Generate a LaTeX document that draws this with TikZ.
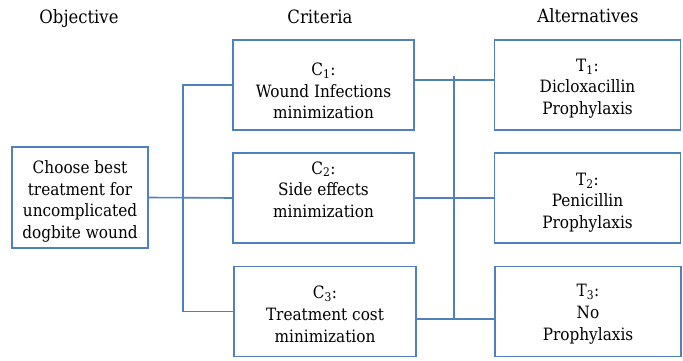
\documentclass[tikz,border=0pt]{standalone}
\usepackage{fontspec}
\setmainfont{DejaVu Serif Condensed}
\usepackage{xcolor}
\usepackage{tikz}
\usetikzlibrary{positioning}
\definecolor{boxblue}{RGB}{79,129,189}
\newcommand{\tpush}[1]{\rule{0pt}{#1}}
\newcommand{\tlift}[1]{\rule[-#1]{0pt}{#1}}
\tikzset{crit/.style={rectangle,draw=boxblue,line width=1.6pt,align=center,minimum width=181pt,minimum height=90pt,inner sep=0pt,font=\fontsize{17}{21.7}\selectfont},
  head/.style={font=\fontsize{18.3}{22}\selectfont}}

\begin{document}
\begin{tikzpicture}[x=1pt,y=-1pt]
    \useasboundingbox (0,0) rectangle (683,361);
    \node[head] (objhead) at (79,19) {Objective};
    \node[head] (crithead) at (320,17) {Criteria};
    \node[head] (althead) at (588,16) {Alternatives};

    \node[crit,minimum width=136pt,minimum height=101pt] (obj) at (80,197.5) {\tpush{21pt}Choose best\\treatment for\\uncomplicated\\dogbite wound};
    \node[crit] (c1) at (323.5,85) {\tpush{24.5pt}C\textsubscript{1}:\\Wound Infections\\minimization};
    \node[crit] (c2) at (323.5,198) {C\textsubscript{2}:\\Side effects\\minimization\tlift{17pt}};
    \node[crit,minimum width=182pt] (c3) at (325,311.5) {\tpush{18.5pt}C\textsubscript{3}:\\Treatment cost\\minimization};
    \node[crit,minimum width=186pt] (t1) at (587.5,85) {\tpush{19.5pt}T\textsubscript{1}:\\Dicloxacillin\\Prophylaxis};
    \node[crit,minimum width=186pt] (t2) at (587.5,198) {\tpush{21.5pt}T\textsubscript{2}:\\Penicillin\\Prophylaxis};
    \node[crit,minimum width=186pt] (t3) at (588,311.5) {\tpush{17.5pt}T\textsubscript{3}:\\No\\Prophylaxis};

    \coordinate (lb) at (183,198);
    \coordinate (rtop) at (454,76);
    \coordinate (rbot) at (454,319);

    \draw [boxblue,line width=1.6pt] (obj.east) -- (c2.west);
    \draw [boxblue,line width=1.6pt] (c1.west) -| (lb) |- (c3.west);
    \draw [boxblue,line width=1.6pt] ([yshift=5pt]c1.east) -- ([yshift=5pt]t1.west);
    \draw [boxblue,line width=1.6pt] (c2.east) -- (t2.west);
    \draw [boxblue,line width=1.6pt] ([yshift=-7.5pt]c3.east) -- ([yshift=-7.5pt]t3.west);
    \draw [boxblue,line width=1.6pt] (rtop) -- (rbot);
\end{tikzpicture}
\end{document}
